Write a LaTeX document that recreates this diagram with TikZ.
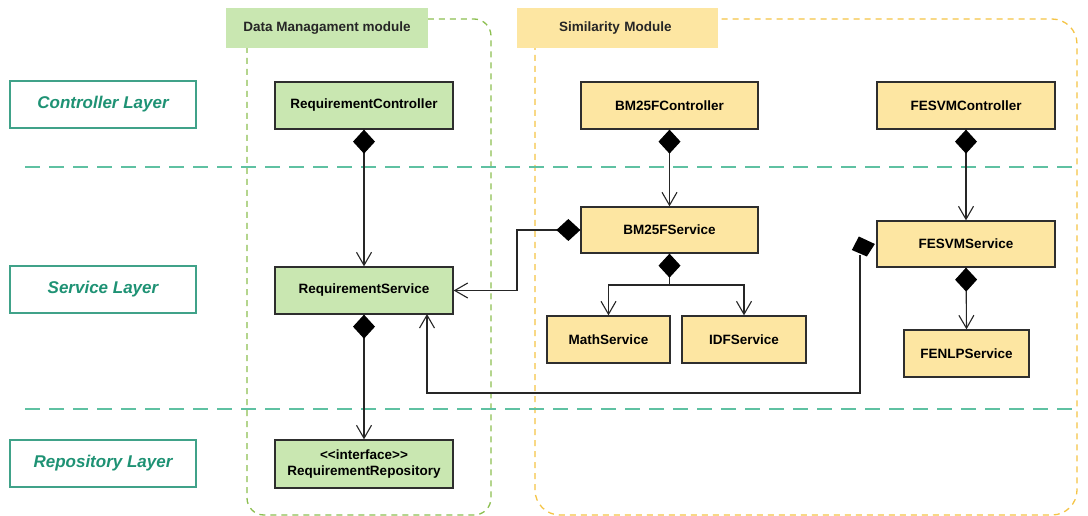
\documentclass[tikz,border=0pt]{standalone}
\usepackage{fontspec}
\setmainfont{Liberation Sans}
\usetikzlibrary{arrows.meta}
\definecolor{greenfill}{HTML}{C9E7B1}
\definecolor{yellowfill}{HTML}{FDE6A2}
\definecolor{greendash}{HTML}{8CBF50}
\definecolor{yellowdash}{HTML}{F5C445}
\definecolor{teal}{HTML}{1E9274}
\definecolor{tealline}{HTML}{5FC1A2}
\definecolor{edge}{HTML}{262626}
\definecolor{boxline}{HTML}{2E2E2E}
\tikzset{
  compdiamond/.tip={Diamond[length=24pt,width=22pt,fill=black,color=black]},
  openbarb/.tip={Straight Barb[length=13pt,width=15pt]},
  cls/.style={draw=boxline, line width=1.3pt, minimum height=47pt, inner sep=0pt,
    font=\fontsize{13.5}{15}\selectfont\bfseries, text=black},
  gcls/.style={cls, fill=greenfill, minimum width=178pt},
  ycls/.style={cls, fill=yellowfill},
  layerbox/.style={draw=teal!85, line width=1.1pt, minimum width=186pt, minimum height=47pt,
    font=\fontsize{17}{19}\selectfont\bfseries\itshape, text=teal},
  modlabel/.style={minimum height=40pt, inner sep=0pt, text=black!85,
    font=\fontsize{13.5}{15}\selectfont\bfseries},
  layersep/.style={draw=tealline, line width=1.3pt, dash pattern=on 15pt off 9pt},
  conn/.style={draw=edge, line width=1.1pt},
  comp/.style={conn, compdiamond-openbarb},
  comp0/.style={conn, compdiamond-},
  dep/.style={conn, -openbarb},
}
\begin{document}
\begin{tikzpicture}[x=1pt,y=-1pt]
\useasboundingbox (0,0) rectangle (1088,516);
\fill[white] (0,0) rectangle (1088,516);

% module frames
\draw[greendash, line width=1.3pt, dash pattern=on 6pt off 5pt, rounded corners=17pt]
  (247,19) rectangle (491,515);
\draw[yellowdash, line width=1.3pt, dash pattern=on 6pt off 5pt, rounded corners=25pt]
  (535,19) rectangle (1077,515);

% module titles
\node[modlabel, fill=greenfill, minimum width=202pt] (dmlabel) at (327,28) {Data Managament module};
\node[modlabel, fill=yellowfill, minimum width=201pt, anchor=west, text width=181pt, align=left,
  inner xsep=10pt] (smlabel) at (517,28) {\hspace*{32pt}Similarity Module};

% layer separators
\draw[layersep] (25,167) -- (1080,167);
\draw[layersep] (25,409) -- (1080,409);

% layer labels
\node[layerbox] (ctrlLayer) at (103,104.5) {Controller Layer};
\node[layerbox] (svcLayer) at (103,289.5) {Service Layer};
\node[layerbox] (repoLayer) at (103,463.5) {Repository Layer};

% data management classes
\node[gcls] (reqCtrl) at (364,105.5) {RequirementController};
\node[gcls] (reqSvc) at (364,290.5) {RequirementService};
\node[gcls, align=center, minimum height=48pt] (reqRepo) at (364,464)
  {<{}<interface>{}>\\[1.5pt]RequirementRepository};

% similarity classes
\node[ycls, minimum width=177pt] (bmCtrl) at (669.5,105.5) {BM25FController};
\node[ycls, minimum width=177pt, minimum height=46pt] (bmSvc) at (669.5,230) {BM25FService};
\node[ycls, minimum width=178pt] (fesCtrl) at (966,105.5) {FESVMController};
\node[ycls, minimum width=178pt, minimum height=46pt] (fesSvc) at (966,244) {FESVMService};
\node[ycls, minimum width=123pt] (mathSvc) at (608.5,339.5) {MathService};
\node[ycls, minimum width=124pt] (idfSvc) at (744,339.5) {IDFService};
\node[ycls, minimum width=125pt] (fenlp) at (966.5,353.5) {FENLPService};

% connectors
\draw[comp] (reqCtrl.south) -- (reqSvc.north);
\draw[comp] (reqSvc.south) -- (reqRepo.north);
\draw[comp] (bmCtrl.south) -- (bmSvc.north);
\draw[comp] (fesCtrl.south) -- (fesSvc.north);
\draw[comp] (fesSvc.south) -- (fenlp.north);

\coordinate (bmTurn) at (517,230);
\draw[comp] (bmSvc.west) -- (bmTurn) |- (reqSvc.east);

\coordinate (bmSplit) at (669.5,285);
\draw[comp0] (bmSvc.south) -- (bmSplit);
\draw[dep] (bmSplit) -| (mathSvc.north);
\draw[dep] (bmSplit) -| (idfSvc.north);

% composition from FESVMService: slanted diamond, then down and across
\fill[black] ([xshift=-1.5pt]fesSvc.west) -- ++(-16,-7.5) -- ++(-7,13.5) -- ++(15,6.5) -- cycle;
\coordinate (fesFoot) at (860,255);
\coordinate (fesLow) at (860,393);
\draw[dep] (fesFoot) -- (fesLow) -| (427,314);
\end{tikzpicture}
\end{document}
